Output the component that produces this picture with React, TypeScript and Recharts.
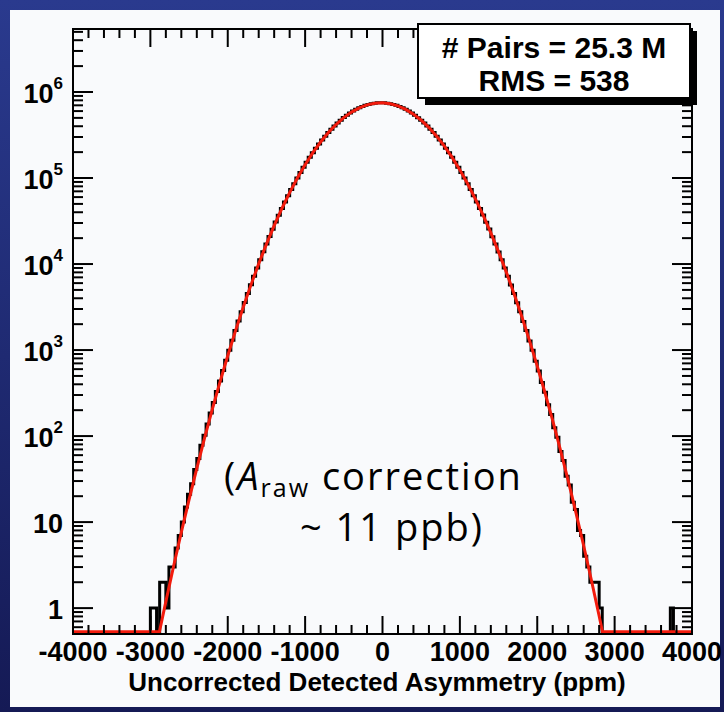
import React from "react";
import { ComposedChart, Line, XAxis, YAxis } from "recharts";

const X_MIN = -4000;
const X_MAX = 4000;
const Y_MIN = 0.5;
const Y_MAX = 5.4e6;

// histogram: 200 bins of 40 ppm from -4000 to 4000
const BIN_LOW = -4000;
const BIN_WIDTH = 40;
const COUNTS = [
  0, 0, 0, 0, 0, 0, 0, 0, 0, 0, 0, 0, 0, 0, 0, 0, 0, 0, 0, 0, 0, 0, 0, 0, 0,
  1, 1, 0, 2, 2, 1, 3, 3, 5, 7,
  10, 15, 21, 28, 41, 55, 78, 102, 138, 186,
  246, 330, 437, 577, 760, 995, 1301, 1688, 2177, 2795,
  3571, 4540, 5738, 7213, 9020, 11215, 13872, 17064, 20873, 25402,
  30741, 36982, 44251, 52680, 62340, 73390, 85910, 100010, 115800, 133300,
  152600, 173800, 196900, 221700, 248300, 276500, 306300, 337500, 369600, 402500,
  436200, 470100, 503800, 536900, 568900, 599400, 628300, 654900, 678800, 699800,
  717400, 731400, 741600, 747800,
  750000,
  747600, 741400, 731600, 717200, 699900, 678600, 655100, 628100, 599600, 568700,
  537100, 503600, 470300, 436000, 402700, 369400, 337700, 306100, 276700, 248100,
  221900, 196700, 174000, 152400, 133500, 115600, 100200, 85760, 73520, 62210,
  52790, 44130, 37080, 30640, 25470, 20790, 17110, 13810, 11240, 8970,
  7230, 5700, 4545, 3540, 2795, 2150, 1685, 1276, 993, 740,
  572, 420, 324, 232, 178, 125, 97, 66, 52, 34,
  27, 17, 14, 8, 7, 4, 3, 2, 2, 2,
  1, 0, 0, 0, 0,
  0, 0, 0, 0, 0, 0, 0, 0, 0, 0, 0, 0, 0, 0, 0, 0, 0, 0, 1, 0, 0, 0, 0, 0, 0,
];

// gaussian fit (clipped at the frame bottom)
const FIT_X = [
  -4000, -2883, -2800, -2700, -2600, -2500, -2400, -2300, -2200, -2100, -2000,
  -1900, -1800, -1700, -1600, -1500, -1400, -1300, -1200, -1100, -1000,
  -900, -800, -700, -600, -500, -400, -300, -200, -100, 0,
  100, 200, 300, 400, 500, 600, 700, 800, 900, 1000,
  1100, 1200, 1300, 1400, 1500, 1600, 1700, 1800, 1900, 2000,
  2100, 2200, 2300, 2400, 2500, 2600, 2700, 2800, 2843, 4000,
];
const FIT_Y = [
  0.53, 0.53, 1.19, 3.07, 7.61, 18.2, 42.2, 94.5, 204, 426, 859,
  1673, 3149, 5723, 10050, 17050, 27950, 44240, 67680, 100000, 142700,
  196900, 262200, 337500, 419400, 503800, 584400, 654900, 709000, 741600, 749400,
  731400, 689900, 628300, 553000, 470000, 386100, 306300, 234800, 173800, 124300,
  85900, 57330, 36970, 23030, 13860, 8058, 4526, 2455, 1287, 651,
  319, 151, 68.7, 30.3, 12.9, 5.31, 2.11, 0.81, 0.53, 0.53,
];

const X_TICKS = [
  -4000, -3800, -3600, -3400, -3200, -3000, -2800, -2600, -2400, -2200, -2000,
  -1800, -1600, -1400, -1200, -1000, -800, -600, -400, -200, 0,
  200, 400, 600, 800, 1000, 1200, 1400, 1600, 1800, 2000,
  2200, 2400, 2600, 2800, 3000, 3200, 3400, 3600, 3800, 4000,
];
const X_LABELS = [-4000, -3000, -2000, -1000, 0, 1000, 2000, 3000, 4000];

const Y_DECADES = [0.1, 1, 10, 100, 1000, 10000, 100000, 1000000];
const Y_MANTISSAS = [1, 2, 3, 4, 5, 6, 7, 8, 9];
const Y_LABELS: Record<number, [string, string]> = {
  1: ["1", ""],
  10: ["10", ""],
  100: ["10", "2"],
  1000: ["10", "3"],
  10000: ["10", "4"],
  100000: ["10", "5"],
  1000000: ["10", "6"],
};

const histData = [
  ...COUNTS.map((c, i) => ({ x: BIN_LOW + i * BIN_WIDTH, y: Math.max(c, Y_MIN) })),
  { x: BIN_LOW + COUNTS.length * BIN_WIDTH, y: Math.max(COUNTS[COUNTS.length - 1], Y_MIN) },
];
const fitData = FIT_X.map((x, i) => ({ x, y: FIT_Y[i] }));
const yTicks = Y_DECADES.flatMap((d) => Y_MANTISSAS.map((m) => +(m * d).toPrecision(3))).filter(
  (v) => v > Y_MIN && v < Y_MAX
);

const FONT = '"Liberation Sans", Arial, Helvetica, sans-serif';
const NOTE_FONT = '"Open Sans", "DejaVu Sans", sans-serif';
const axisLine = { stroke: "#000", strokeWidth: 2, strokeLinecap: "square" as const };

function BottomTick({ x, y, payload }: any) {
  const major = X_LABELS.includes(payload.value);
  return (
    <g>
      <line x1={x} x2={x} y1={y} y2={y - (major ? 18 : 9)} stroke="#000" strokeWidth={2} />
      {major && (
        <text x={x} y={y + 27} textAnchor="middle" fontFamily={FONT} fontWeight={700} fontSize={27} fill="#000">
          {payload.value}
        </text>
      )}
    </g>
  );
}

function TopTick({ x, y, payload }: any) {
  const major = X_LABELS.includes(payload.value);
  return <line x1={x} x2={x} y1={y} y2={y + (major ? 18 : 9)} stroke="#000" strokeWidth={2} />;
}

function LeftTick({ x, y, payload }: any) {
  const lab = Y_LABELS[payload.value];
  return (
    <g>
      <line x1={x} x2={x + (lab ? 20 : 10)} y1={y} y2={y} stroke="#000" strokeWidth={2} />
      {lab && (
        <text x={x - 10} y={y + 11} textAnchor="end" fontFamily={FONT} fontWeight={700} fontSize={27} fill="#000">
          <tspan>{lab[0]}</tspan>
          {lab[1] && (
            <tspan dy={-14} fontSize={17}>
              {lab[1]}
            </tspan>
          )}
        </text>
      )}
    </g>
  );
}

function RightTick({ x, y, payload }: any) {
  const lab = Y_LABELS[payload.value];
  return <line x1={x} x2={x - (lab ? 20 : 10)} y1={y} y2={y} stroke="#000" strokeWidth={2} />;
}

export default function App() {
  return (
    <div
      style={{
        position: "absolute",
        left: 0,
        top: 0,
        width: 724,
        height: 712,
        overflow: "hidden",
        background: "linear-gradient(180deg, #2a3a8e 0%, #1f2a72 50%, #151a55 100%)",
      }}
    >
      <div style={{ position: "absolute", left: 10, top: 10, width: 710, height: 697, background: "#f9fafc" }} />
      <div style={{ position: "absolute", left: 0, top: 0 }}>
        <ComposedChart width={724} height={712} margin={{ top: 0, right: 0, bottom: 0, left: 0 }}>
          <XAxis
            xAxisId="top"
            orientation="top"
            type="number"
            dataKey="x"
            height={29}
            domain={[X_MIN, X_MAX]}
            allowDataOverflow
            ticks={X_TICKS}
            interval={0}
            tickSize={0}
            tickMargin={0}
            tickLine={false}
            axisLine={axisLine}
            tick={(p: any) => <TopTick {...p} />}
          />
          <XAxis
            xAxisId="bottom"
            orientation="bottom"
            type="number"
            dataKey="x"
            height={78}
            domain={[X_MIN, X_MAX]}
            allowDataOverflow
            ticks={X_TICKS}
            interval={0}
            tickSize={0}
            tickMargin={0}
            tickLine={false}
            axisLine={axisLine}
            tick={(p: any) => <BottomTick {...p} />}
          />
          <YAxis
            yAxisId="left"
            orientation="left"
            type="number"
            scale="log"
            width={73}
            domain={[Y_MIN, Y_MAX]}
            allowDataOverflow
            ticks={yTicks}
            interval={0}
            tickSize={0}
            tickMargin={0}
            tickLine={false}
            axisLine={axisLine}
            tick={(p: any) => <LeftTick {...p} />}
          />
          <YAxis
            yAxisId="right"
            orientation="right"
            type="number"
            scale="log"
            width={32}
            domain={[Y_MIN, Y_MAX]}
            allowDataOverflow
            ticks={yTicks}
            interval={0}
            tickSize={0}
            tickMargin={0}
            tickLine={false}
            axisLine={axisLine}
            tick={(p: any) => <RightTick {...p} />}
          />
          <Line
            xAxisId="bottom"
            yAxisId="left"
            data={histData}
            dataKey="y"
            type="stepAfter"
            stroke="#000"
            strokeWidth={3}
            dot={false}
            activeDot={false}
            isAnimationActive={false}
          />
          <Line
            xAxisId="bottom"
            yAxisId="left"
            data={fitData}
            dataKey="y"
            type="linear"
            stroke="#f21b0d"
            strokeWidth={3}
            dot={false}
            activeDot={false}
            isAnimationActive={false}
          />
        </ComposedChart>
      </div>
      <svg width={724} height={712} style={{ position: "absolute", left: 0, top: 0, pointerEvents: "none" }}>
        <rect x={425} y={31} width={272} height={74} fill="#000" />
        <rect x={418} y={24} width={272} height={74} fill="#fff" stroke="#000" strokeWidth={2} />
        <text x={554} y={58} textAnchor="middle" fontFamily={FONT} fontWeight={700} fontSize={30} fill="#000">
          # Pairs = 25.3 M
        </text>
        <text x={554} y={91} textAnchor="middle" fontFamily={FONT} fontWeight={700} fontSize={30} fill="#000">
          RMS = 538
        </text>
        <text x={377} y={691} textAnchor="middle" fontFamily={FONT} fontWeight={700} fontSize={26} fill="#000">
          Uncorrected Detected Asymmetry (ppm)
        </text>
        <text x={224} y={490} fontFamily={NOTE_FONT} fontSize={38} letterSpacing={2} fill="#000">
          (<tspan fontStyle="italic">A</tspan>
          <tspan fontSize={25} dy={7}>raw</tspan>
          <tspan dy={-7}> correction</tspan>
        </text>
        <text x={300} y={541} fontFamily={NOTE_FONT} fontSize={38} letterSpacing={2} fill="#000">
          ~ 11 ppb)
        </text>
      </svg>
    </div>
  );
}
